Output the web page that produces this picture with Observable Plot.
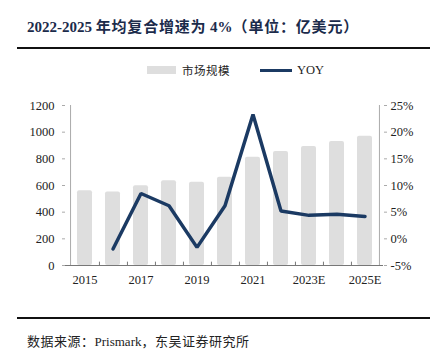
<!DOCTYPE html>
<html><head><meta charset="utf-8">
<script src="https://cdn.jsdelivr.net/npm/d3@7"></script>
<script src="https://cdn.jsdelivr.net/npm/@observablehq/plot@0.6"></script>
<style>
body{margin:0;width:437px;height:360px;position:relative;overflow:hidden;background:#fff;font-family:"Liberation Serif","Times New Roman","Noto Sans CJK SC",serif;}
#title{position:absolute;left:27px;top:15px;font-size:15px;font-weight:bold;color:#1b2b4b;white-space:nowrap;}
#title .cjk{font-family:"Noto Sans CJK SC",sans-serif;letter-spacing:0.8px;}
.hr{position:absolute;left:17px;width:413px;height:2px;background:#111;}
#legend{position:absolute;top:62px;left:147px;font-size:12.5px;color:#222;display:flex;align-items:center;white-space:nowrap;}
#legend .cjk{font-family:"Noto Sans CJK SC",sans-serif;font-size:11.5px;letter-spacing:0.5px;}
#chart{position:absolute;left:0;top:90px;}
#caption{position:absolute;left:27px;top:331px;font-size:13px;color:#222;white-space:nowrap;}
#caption .cjk{font-family:"Noto Sans CJK SC",sans-serif;letter-spacing:0.5px;}
</style></head>
<body>
<div id="title">2022-2025 <span class="cjk">年均复合增速为</span> 4%<span class="cjk">（单位：亿美元）</span></div>
<div class="hr" style="top:47px"></div>
<div id="legend">
  <span style="display:inline-block;width:29px;height:8px;background:#dedede;margin-right:6px"></span><span class="cjk">市场规模</span>
  <span style="display:inline-block;width:32px;height:3px;background:#1b3a63;margin-left:30px;margin-right:5px"></span><span>YOY</span>
</div>
<div id="chart"></div>
<div class="hr" style="top:317px"></div>
<div id="caption"><span class="cjk">数据来源：</span>Prismark<span class="cjk">，东吴证券研究所</span></div>
<script>
const years = ["2015","2016","2017","2018","2019","2020","2021","2022","2023E","2024E","2025E"];
const marketSize = [560, 552, 598, 636, 624, 662, 812, 855, 892, 930, 970];
const yoyYears = ["2016","2017","2018","2019","2020","2021","2022","2023E","2024E","2025E"];
const yoy = [-1.9, 8.5, 6.2, -1.6, 6.2, 23.3, 5.2, 4.4, 4.6, 4.2];
const leftTicks = [0, 200, 400, 600, 800, 1000, 1200];
const rightTicks = [-5, 0, 5, 10, 15, 20, 25];
const xLabels = ["2015","2017","2019","2021","2023E","2025E"];

const toLeft = v => (v + 5) * 40; // map % (-5..25) onto 0..1200
const bars = years.map((y, i) => ({year: y, value: marketSize[i]}));
const line = yoyYears.map((y, i) => ({year: y, value: toLeft(yoy[i])}));

const chart = Plot.plot({
  width: 437, height: 200,
  marginTop: 15, marginBottom: 25, marginLeft: 65, marginRight: 54,
  style: {fontFamily: '"Liberation Serif","Times New Roman",serif', fontSize: "12.5px", color: "#222", background: "transparent"},
  x: {type: "band", domain: years, paddingInner: 0.48, paddingOuter: 0.24, label: null},
  y: {domain: [0, 1200], label: null},
  marks: [
    Plot.barY(bars, {x: "year", y: "value", fill: "#dedede", rx: 2}),
    Plot.ruleY([0], {stroke: "#777", strokeWidth: 1.2}),
    Plot.ruleX([years[0]], {dx: -14.45, stroke: "#aaa"}),
    Plot.ruleX([years[years.length-1]], {dx: 14.45, stroke: "#aaa"}),
    Plot.ruleX(years.slice(0, -1), {dx: 14.45, y1: 0, y2: 25, stroke: "#777"}),
    Plot.axisY(leftTicks, {anchor: "left", tickSize: 3, tickPadding: 8, stroke: "#aaa", label: null, tickFormat: d => String(d)}),
    Plot.axisY(rightTicks.map(toLeft), {anchor: "right", tickSize: 3, tickPadding: 4, stroke: "#aaa", label: null,
      tickFormat: d => Math.round(d / 40 - 5) + "%"}),
    Plot.axisX(xLabels, {anchor: "bottom", tickSize: 0, tickPadding: 10, label: null}),
    Plot.line(line, {x: "year", y: "value", stroke: "#1b3a63", strokeWidth: 3.5, strokeLinejoin: "miter"})
  ]
});
document.getElementById("chart").appendChild(chart);
</script>
</body></html>
